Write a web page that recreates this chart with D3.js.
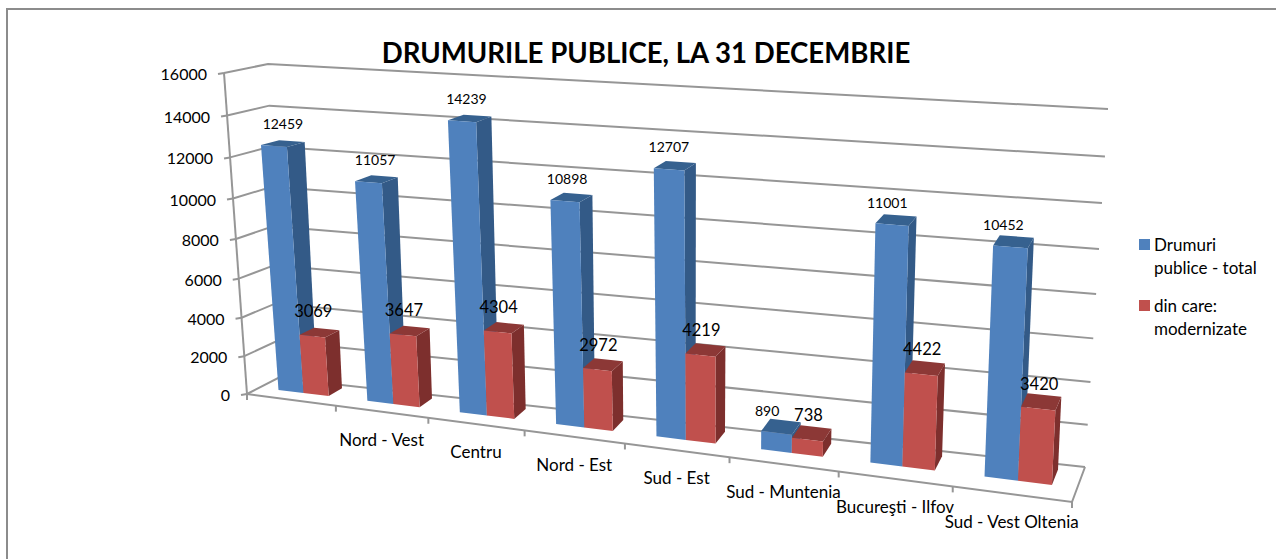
<!DOCTYPE html>
<html>
<head>
<meta charset="utf-8">
<script src="https://cdn.jsdelivr.net/npm/d3@7"></script>
<style>
  body { margin: 0; background: #fff; overflow: hidden; }
  svg { display: block; }
  text { font-family: Lato, "Open Sans", sans-serif; fill: #000; }
</style>
</head>
<body>
<div id="chart"></div>
<script>
var categories = ["", "Nord - Vest", "Centru", "Nord - Est", "Sud - Est", "Sud - Muntenia", "Bucureşti - Ilfov", "Sud - Vest Oltenia"];
var totalValues = [12459, 11057, 14239, 10898, 12707, 890, 11001, 10452];
var modernValues = [3069, 3647, 4304, 2972, 4219, 738, 4422, 3420];
var valueTicks = [0, 2000, 4000, 6000, 8000, 10000, 12000, 14000, 16000];
var legendLabels = [["Drumuri", "publice - total"], ["din care:", "modernizate"]];
var chartTitle = "DRUMURILE PUBLICE, LA 31 DECEMBRIE";

var width = 1276, height = 559;
var svg = d3.select("#chart").append("svg").attr("width", width).attr("height", height);

// the 8 corners of the chart box on screen, [category, value, depth]
var corners = {
    "000": [247, 394], "100": [1072, 502], "001": [278, 378], "101": [1085, 467],
    "010": [224, 73],  "110": [1097, 127], "011": [268, 64],  "111": [1108, 109]
};

// perspective makes far things bunch up, so the scales are bent a little
function bend(k){
    return function(t){ return t / (t + k * (1 - t)); };
}
var xBend = bend(1.183), vBend = bend(1.07);
var xScale = d3.scaleLinear().domain([0, categories.length]).range([0, 1]);
var vScale = d3.scaleLinear().domain([0, 16000]).range([0, 1]);

// category position (in bands), value, depth 0..1 -> screen point
function project(c, v, z){
    var a = xBend(xScale(c)), b = vBend(vScale(v));
    var out = [0, 1].map(function(n){
        function p(i, j, k){ return corners["" + i + j + k][n]; }
        var bottom = d3.interpolateNumber(
            d3.interpolateNumber(p(0,0,0), p(1,0,0))(a),
            d3.interpolateNumber(p(0,0,1), p(1,0,1))(a))(z);
        var top = d3.interpolateNumber(
            d3.interpolateNumber(p(0,1,0), p(1,1,0))(a),
            d3.interpolateNumber(p(0,1,1), p(1,1,1))(a))(z);
        return bottom + (top - bottom) * b;
    });
    return out;
}

// bars lean a bit more to the left than the walls do
var barLean = 6;
function projectBar(c, v, z){
    var p = project(c, v, z);
    return [p[0] - barLean * vBend(vScale(v)), p[1]];
}

var gridColor = "#969696";
var line = d3.line();
function wire(points, w){
    svg.append("path").attr("d", line(points)).attr("fill", "none")
        .attr("stroke", gridColor).attr("stroke-width", w || 2);
}

// frame, runs off the right and bottom of the page
svg.append("rect").attr("x", 7).attr("y", 9).attr("width", 1300).attr("height", 600)
    .attr("fill", "#fff").attr("stroke", "#8c8c8c").attr("stroke-width", 2);

// title
svg.append("text").attr("x", 646).attr("y", 63).attr("text-anchor", "middle")
    .attr("font-size", 27.6).attr("font-weight", 700).text(chartTitle);

// back wall and side wall lines
var nCat = categories.length;
valueTicks.forEach(function(v){
    wire([project(0, v, 0), project(0, v, 1), project(nCat, v, 1)]);
    var t = project(0, v, 0);
    wire([[t[0] - 6, t[1] + 1], t]);
    svg.append("text").attr("x", t[0] - 17).attr("y", t[1] + 7).attr("text-anchor", "end")
        .attr("font-size", 16).text(v);
});
wire([project(0, 0, 0), project(0, 16000, 0)]);

// floor edges
wire([project(0, 0, 0), project(nCat, 0, 0), project(nCat, 0, 1)]);
d3.range(0, nCat + 1).forEach(function(i){
    var t = project(i, 0, 0);
    wire([t, [t[0], t[1] + 6]]);
});

// bars
var barLeft = 0.22, barW = 0.285, zFront = 0.4, zBack = 0.85;
var series = [
    {values: totalValues, offset: 0, front: "#4f81bd", side: "#335a87", top: "#36618f"},
    {values: modernValues, offset: barW, front: "#c0504d", side: "#7d2f2d", top: "#8c3836"}
];
function poly(points, fill){
    svg.append("polygon").attr("points", points.join(" ")).attr("fill", fill);
}
categories.forEach(function(name, i){
    series.forEach(function(s){
        var x0 = i + barLeft + s.offset, x1 = x0 + barW, v = s.values[i];
        poly([projectBar(x1, 0, zFront), projectBar(x1, 0, zBack), projectBar(x1, v, zBack), projectBar(x1, v, zFront)], s.side);
        poly([projectBar(x0, v, zFront), projectBar(x1, v, zFront), projectBar(x1, v, zBack), projectBar(x0, v, zBack)], s.top);
        poly([projectBar(x0, 0, zFront), projectBar(x1, 0, zFront), projectBar(x1, v, zFront), projectBar(x0, v, zFront)], s.front);
    });
});

// labels go on last so bars never cover them
var labelShift = d3.scaleLinear().domain([0, 7]).range([9, -7]);
categories.forEach(function(name, i){
    var a = projectBar(i + barLeft + barW / 2, totalValues[i], zFront);
    // a short bar's label moves left, out of the way of its neighbour
    var nudge = totalValues[i] < 1000 ? -7 : 0;
    svg.append("text").attr("x", a[0] + labelShift(i) + nudge).attr("y", a[1] - 17).attr("text-anchor", "middle")
        .attr("font-size", 14).text(totalValues[i]);
    var b = projectBar(i + barLeft + barW * 1.5, modernValues[i], zFront);
    svg.append("text").attr("x", b[0] + 1).attr("y", b[1] - 19).attr("text-anchor", "middle")
        .attr("font-size", 16.5).text(modernValues[i]);
    var c = project(i + 0.5, 0, 0);
    svg.append("text").attr("x", c[0]).attr("y", c[1] + 34).attr("text-anchor", "middle")
        .attr("font-size", 17).text(name);
});

// legend
var legendColors = ["#4f81bd", "#c0504d"];
var legendTops = [239, 300];
legendLabels.forEach(function(lines, i){
    svg.append("rect").attr("x", 1139).attr("y", legendTops[i]).attr("width", 11).attr("height", 11)
        .attr("fill", legendColors[i]);
    lines.forEach(function(txt, j){
        svg.append("text").attr("x", 1154).attr("y", legendTops[i] + 12 + j * 23)
            .attr("font-size", 17).text(txt);
    });
});
</script>
</body>
</html>
